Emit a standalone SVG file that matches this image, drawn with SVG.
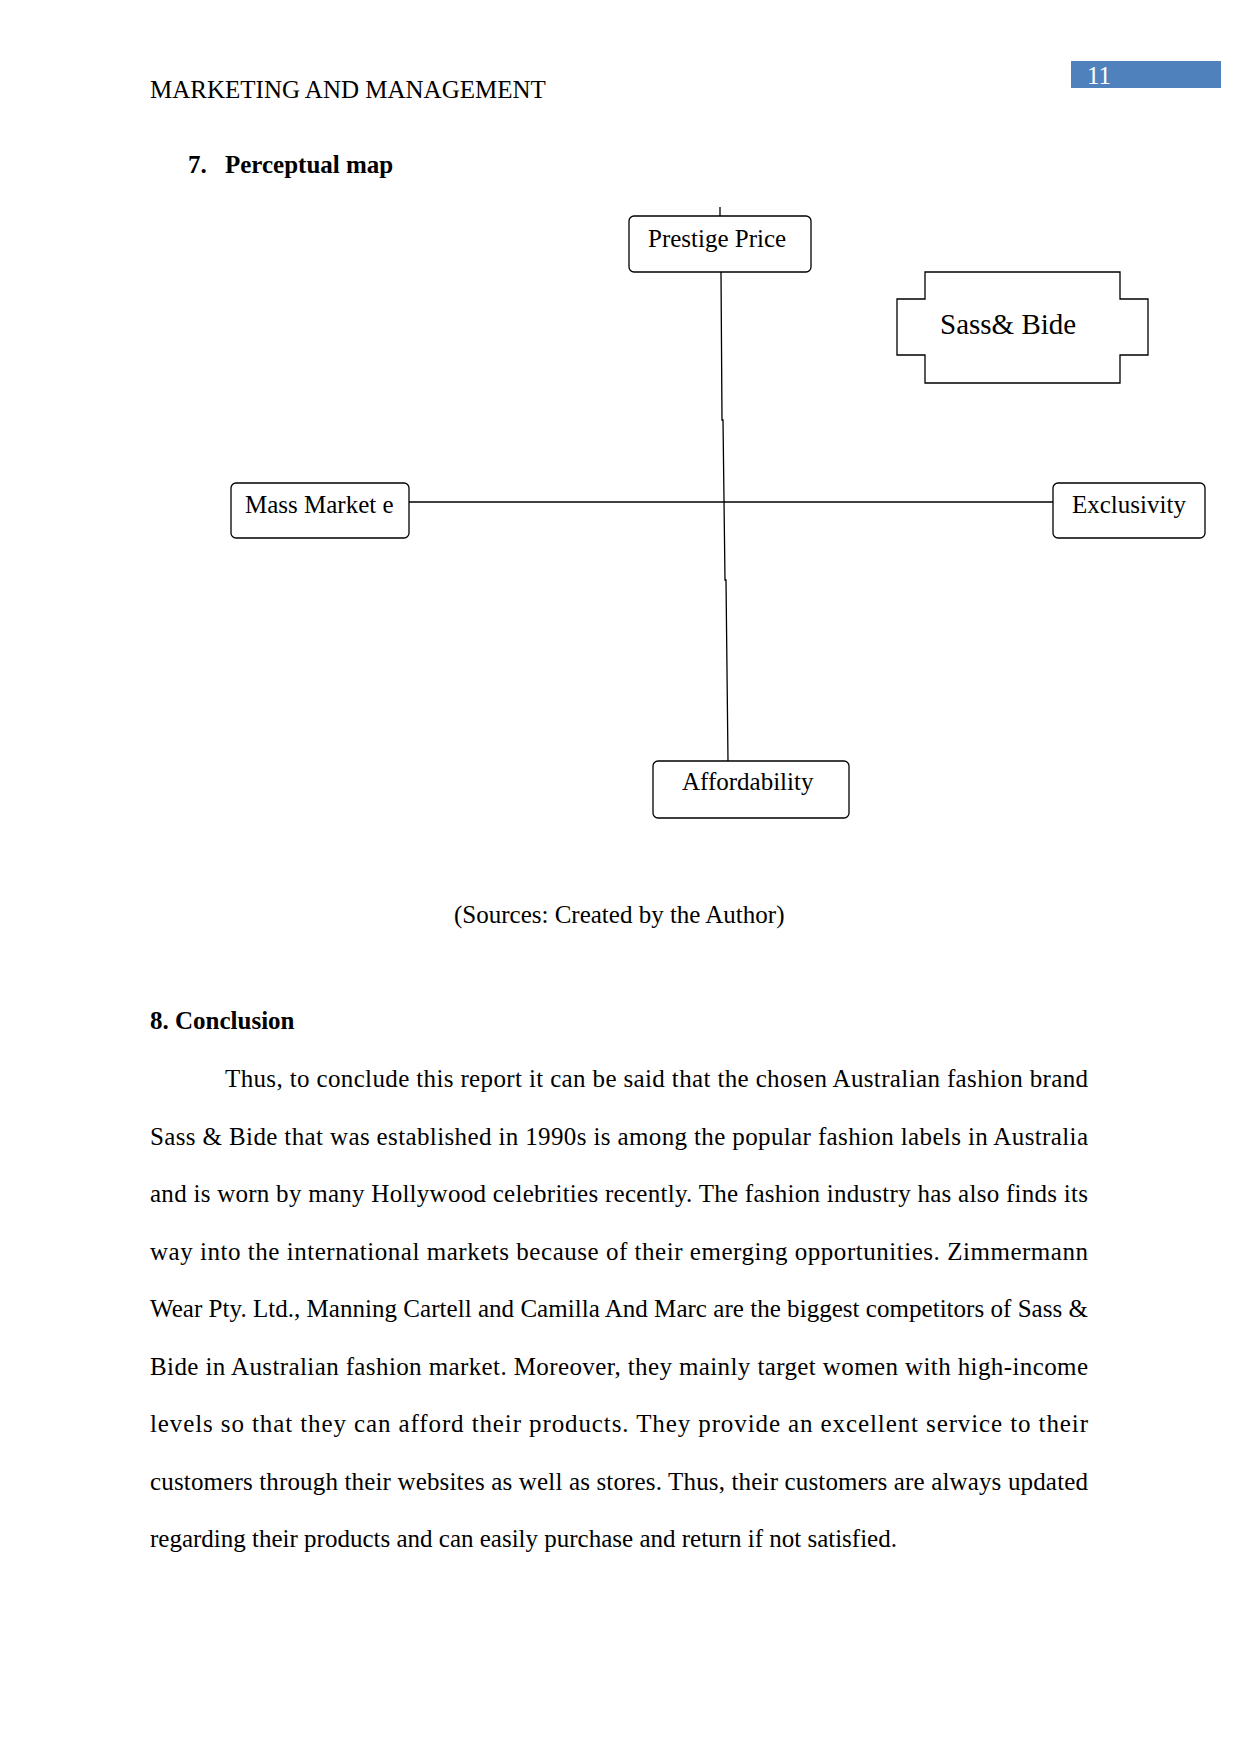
<svg xmlns="http://www.w3.org/2000/svg" width="1241" height="1754" viewBox="0 0 1241 1754">
<style>
text{font-family:"Liberation Serif","Times New Roman",serif;font-size:25px;fill:#000}
.b{font-weight:bold}
.box{fill:#fff;stroke:#000;stroke-width:1.3}
.ln{fill:none;stroke:#000;stroke-width:1.3}
</style>
<rect width="1241" height="1754" fill="#fff"/>
<text x="150" y="98">MARKETING AND MANAGEMENT</text>
<rect x="1071" y="61" width="150" height="27" fill="#4F81BD"/>
<text x="1087" y="84" style="fill:#fff">11</text>
<text x="188" y="173" class="b">7.</text>
<text x="225" y="173" class="b">Perceptual map</text>

<g id="connectors">
<polyline class="ln" points="720,207 720,216"/>
<polyline class="ln" points="721,272 722,420 723,420 725,580 726,580 728,761"/>
<line class="ln" x1="409" y1="502" x2="1053" y2="502"/>
</g>

<g id="prestige">
<rect class="box" x="629" y="216" width="182" height="56" rx="5"/>
<text x="648" y="247">Prestige Price</text>
</g>
<g id="sassbide">
<path class="box" d="M925,272 H1120 V299 H1148 V355 H1120 V383 H925 V355 H897 V299 H925 Z"/>
<text x="940" y="334" style="font-size:29px">Sass&amp; Bide</text>
</g>
<g id="massmarket">
<rect class="box" x="231" y="483" width="178" height="55" rx="5"/>
<text x="245" y="513">Mass Market e</text>
</g>
<g id="exclusivity">
<rect class="box" x="1053" y="483" width="152" height="55" rx="5"/>
<text x="1072" y="513">Exclusivity</text>
</g>
<g id="affordability">
<rect class="box" x="653" y="761" width="196" height="57" rx="5"/>
<text x="682" y="790">Affordability</text>
</g>

<text x="454" y="923">(Sources: Created by the Author)</text>
<text x="150" y="1029" class="b">8. Conclusion</text>
<text x="225" y="1087" textLength="863" lengthAdjust="spacing">Thus, to conclude this report it can be said that the chosen Australian fashion brand</text>
<text x="150" y="1144.5" textLength="938" lengthAdjust="spacing">Sass &amp; Bide that was established in 1990s is among the popular fashion labels in Australia</text>
<text x="150" y="1202" textLength="938" lengthAdjust="spacing">and is worn by many Hollywood celebrities recently. The fashion industry has also finds its</text>
<text x="150" y="1259.5" textLength="938" lengthAdjust="spacing">way into the international markets because of their emerging opportunities. Zimmermann</text>
<text x="150" y="1317" textLength="938" lengthAdjust="spacing">Wear Pty. Ltd., Manning Cartell and Camilla And Marc are the biggest competitors of Sass &amp;</text>
<text x="150" y="1374.5" textLength="938" lengthAdjust="spacing">Bide in Australian fashion market. Moreover, they mainly target women with high-income</text>
<text x="150" y="1432" textLength="938" lengthAdjust="spacing">levels so that they can afford their products. They provide an excellent service to their</text>
<text x="150" y="1489.5" textLength="938" lengthAdjust="spacing">customers through their websites as well as stores. Thus, their customers are always updated</text>
<text x="150" y="1547">regarding their products and can easily purchase and return if not satisfied.</text>
</svg>
